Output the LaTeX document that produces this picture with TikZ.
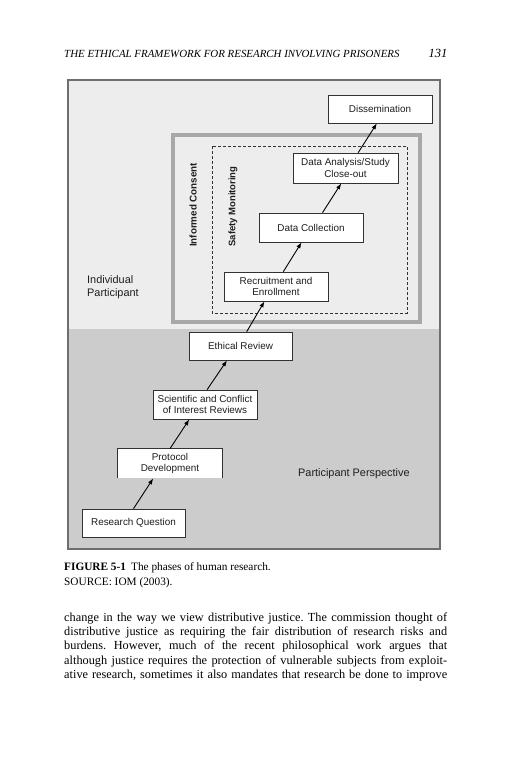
\documentclass[tikz,border=0pt]{standalone}
\usepackage{fontspec}
\setmainfont{Liberation Serif}
\newfontfamily\arialf{Liberation Sans}
\usetikzlibrary{arrows.meta,calc}
\definecolor{lightbg}{RGB}{237,237,237}
\definecolor{darkbg}{RGB}{204,204,204}
\definecolor{framecol}{RGB}{110,110,110}
\definecolor{consentcol}{RGB}{168,168,168}
\definecolor{boxline}{RGB}{50,50,50}
\definecolor{inkcol}{RGB}{30,30,30}
\frenchspacing
\begin{document}
\begin{tikzpicture}[x=1pt,y=-1pt,
  stepbox/.style={draw=boxline, line width=0.7pt, fill=white, inner sep=0pt, align=center,
    minimum width=104pt, minimum height=29pt, text=inkcol,
    font=\arialf\fontsize{9.9}{11.5}\selectfont},
  flow/.style={line width=0.9pt, draw=black, -{Latex[length=6pt,width=4.4pt]}},
  lbl/.style={anchor=base west, inner sep=0pt, text=inkcol, font=\arialf\fontsize{10.9}{12.5}\selectfont},
  vlbl/.style={rotate=90, inner sep=0pt, text=inkcol, font=\arialf\bfseries\fontsize{9.8}{12}\selectfont},
  serif/.style={anchor=base west, inner sep=0pt, text=black},
]
\useasboundingbox (0,0) rectangle (512,768);
\fill[white] (0,0) rectangle (512,768);
% header
\node[serif, font=\itshape\fontsize{10.9}{12}\selectfont] (head) at (64,57.3) {THE ETHICAL FRAMEWORK FOR RESEARCH INVOLVING PRISONERS};
\node[serif, anchor=base east, font=\itshape\fontsize{12.5}{14}\selectfont] (pnum) at (447.5,58) {131};
% figure background
\fill[lightbg] (68,80) rectangle (440,549);
\fill[darkbg] (68,329) rectangle (440,549);
\draw[framecol, line width=1.2pt] (68,80) rectangle (440,549);
\draw[consentcol, line width=4pt] (173,135) rectangle (420,322);
\draw[boxline, line width=0.6pt, dash pattern=on 3pt off 2pt] (212,146) rectangle (407,313);
% labels
\node[vlbl] (ic) at (193,205) {Informed Consent};
\node[vlbl, font=\arialf\bfseries\fontsize{9.5}{12}\selectfont] (sm) at (233,206.5) {Safety Monitoring};
\node[lbl, align=left] (indiv) at (87,296) {Individual\\Participant};
\node[lbl] (persp) at (298,476) {Participant Perspective};
% steps
\node[stepbox, minimum height=28pt] (dis) at (380,109) {Dissemination};
\node[stepbox, minimum width=105pt, minimum height=30pt] (dana) at (345.5,168) {Data Analysis/Study\\Close-out};
\node[stepbox] (dcol) at (311,227.5) {Data Collection};
\node[stepbox] (recr) at (276,286.5) {Recruitment and\\Enrollment};
\node[stepbox, minimum width=103pt, minimum height=28pt] (eth) at (240.5,346) {Ethical Review};
\node[stepbox] (sci) at (205,404.5) {Scientific and Conflict\\of Interest Reviews};
\node[stepbox, draw=none] (prot) at (170,463.5) {Protocol\\Development};
\draw[boxline, line width=0.7pt] (prot.south west) -- (prot.north west) -- (prot.north east) -- (prot.south east);
\node[stepbox, minimum width=103pt, minimum height=28pt] (rq) at (133.5,523) {Research Question};
% arrows
\draw[flow] ($(rq.north west)!0.50!(rq.north east)$) -- ($(prot.south west)!0.34!(prot.south east)$);
\draw[flow] ($(prot.north west)!0.50!(prot.north east)$) -- ($(sci.south west)!0.35!(sci.south east)$);
\draw[flow] ($(sci.north west)!0.52!(sci.north east)$) -- ($(eth.south west)!0.37!(eth.south east)$);
\draw[flow] ($(eth.north west)!0.56!(eth.north east)$) -- ($(recr.south west)!0.39!(recr.south east)$);
\draw[flow] ($(recr.north west)!0.57!(recr.north east)$) -- ($(dcol.south west)!0.41!(dcol.south east)$);
\draw[flow] ($(dcol.north west)!0.61!(dcol.north east)$) -- ($(dana.south west)!0.46!(dana.south east)$);
\draw[flow] ($(dana.north west)!0.62!(dana.north east)$) -- ($(dis.south west)!0.47!(dis.south east)$);
% caption
\node[serif, font=\fontsize{11.3}{13}\selectfont] (cap1) at (64,570.5) {\textbf{FIGURE 5-1}\hspace{0.45em}The phases of human research.};
\node[serif, font=\fontsize{11.3}{13}\selectfont] (cap2) at (64,585) {SOURCE: IOM (2003).};
% body text
\begin{scope}[every node/.style={serif, font=\fontsize{12.3}{14}\selectfont}]
\node (l1) at (64,621.5) {\makebox[383pt][s]{change in the way we view distributive justice. The commission thought of}};
\node (l2) at (64,635.7) {\makebox[383pt][s]{distributive justice as requiring the fair distribution of research risks and}};
\node (l3) at (64,649.8) {\makebox[383pt][s]{burdens. However, much of the recent philosophical work argues that}};
\node (l4) at (64,664) {\makebox[383pt][s]{although justice requires the protection of vulnerable subjects from exploit-}};
\node (l5) at (64,678.2) {\makebox[383pt][s]{ative research, sometimes it also mandates that research be done to improve}};
\end{scope}
\end{tikzpicture}
\end{document}
